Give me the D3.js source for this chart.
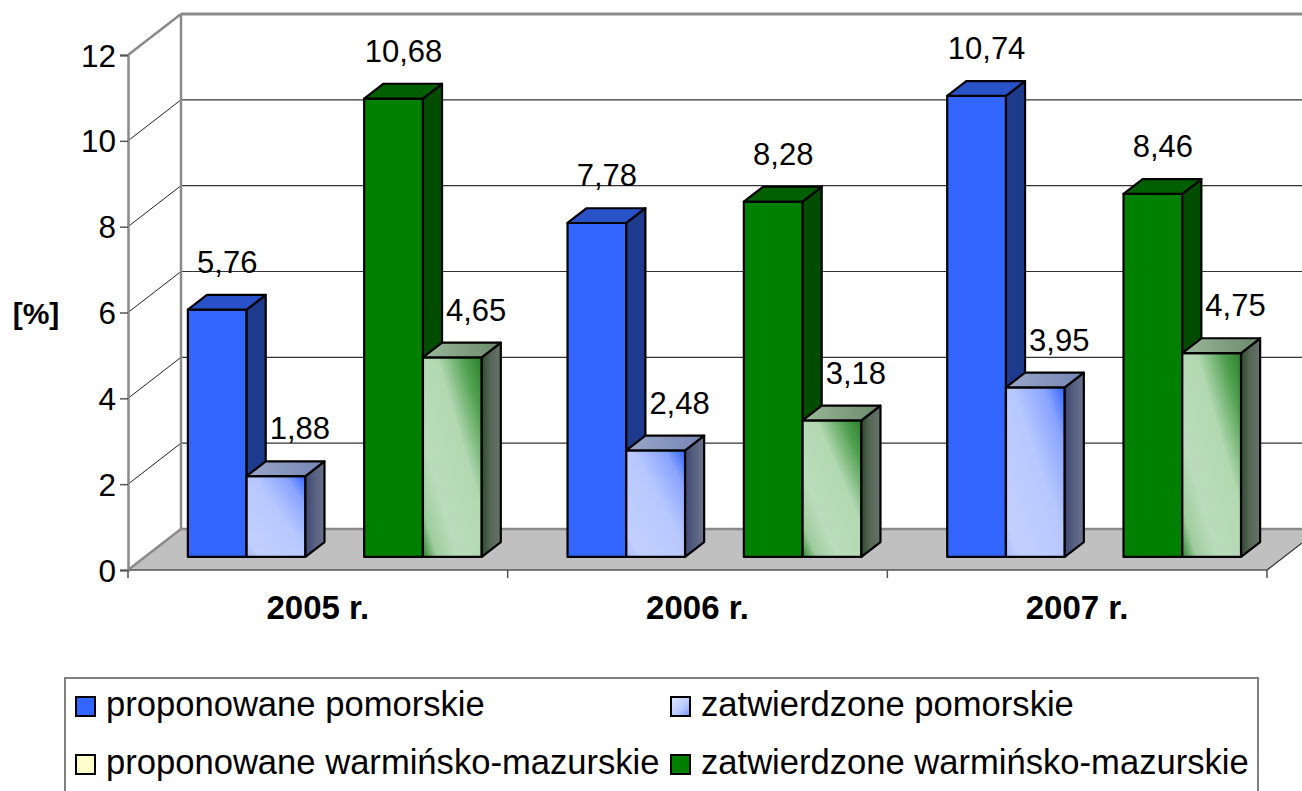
<!DOCTYPE html>
<html>
<head>
<meta charset="utf-8">
<script src="https://cdn.jsdelivr.net/npm/d3@7"></script>
<style>
  html, body { margin: 0; padding: 0; background: #fff; }
  svg { display: block; font-family: "Liberation Sans", Arial, sans-serif; }
</style>
</head>
<body>
<svg id="chart" width="1302" height="791"></svg>
<script>
// ---- data ----
const years = ["2005 r.", "2006 r.", "2007 r."];
const propPom = [5.76, 7.78, 10.74];   // proponowane pomorskie
const zatwPom = [1.88, 2.48, 3.95];    // zatwierdzone pomorskie
const propWM  = [10.68, 8.28, 8.46];   // warmińsko-mazurskie (dark green bars)
const zatwWM  = [4.65, 3.18, 4.75];    // warmińsko-mazurskie (light green bars)
const yTicks = [0, 2, 4, 6, 8, 10, 12];
const legendLabels = [
  "proponowane pomorskie", "zatwierdzone pomorskie",
  "proponowane warmińsko-mazurskie", "zatwierdzone warmińsko-mazurskie"
];
const slots = ["pp", "zp", "gap", "pw", "zw"];

const svg = d3.select("#chart");
const W = 1302, H = 791;

// ---- 3D geometry ----
const DX = 53, DY = 41;          // full floor depth offset
const d0 = 0.32, d1 = 0.68;      // bar depth range
const dd = d1 - d0;

const x0 = d3.scaleBand().domain(years).range([128, 1267]).padding(0);
const x1 = d3.scaleBand().domain(slots).range([0, x0.bandwidth()]).paddingInner(0).paddingOuter(0.73);
const y = d3.scaleLinear().domain([0, 12]).range([570, 55]);

const locale = d3.formatLocale({decimal: ",", thousands: " ", grouping: [3], currency: ["", " zł"]});
const fmt = locale.format(".2f");

// ---- defs (gradients) ----
const defs = svg.append("defs");
function lin(id, x1_, y1_, x2_, y2_, stops) {
  const g = defs.append("linearGradient").attr("id", id)
    .attr("x1", x1_).attr("y1", y1_).attr("x2", x2_).attr("y2", y2_);
  stops.forEach(s => g.append("stop").attr("offset", s[0]).attr("stop-color", s[1]));
}
lin("lbFront", 0, 1, 1, 0, [[0, "#aabcff"], [0.12, "#c2d0ff"], [0.55, "#b8c8ff"], [0.82, "#8aa4ff"], [1, "#3366ff"]]);
lin("lbSide", 0, 0, 1, 0, [[0, "#3c4670"], [0.5, "#5a6282"], [1, "#6a708a"]]);
lin("lbTop", 0, 0, 1, 0, [[0, "#98a6c8"], [1, "#7686b4"]]);
lin("lgFront", 0, 1, 1, 0, [[0, "#2e852e"], [0.12, "#9fcd9f"], [0.3, "#badcba"], [0.62, "#b2d8b2"], [0.85, "#4f9f4f"], [1, "#2a7f2a"]]);
lin("lgSide", 0, 0, 1, 0, [[0, "#2e4a2e"], [0.45, "#566656"], [1, "#66726a"]]);
lin("lgTop", 0, 0, 1, 0, [[0, "#9ab89a"], [1, "#6a8a6a"]]);
lin("lbSwatch", 0, 0, 1, 1, [[0, "#e0e8ff"], [0.6, "#b8c8ff"], [1, "#6f8fff"]]);

// ---- walls / floor ----
const y0 = y(0);
svg.append("polygon")
  .attr("points", [[128, y0], [1267, y0], [1267 + DX, y0 - DY], [128 + DX, y0 - DY]].map(p => p.join(",")).join(" "))
  .attr("fill", "#c0c0c0");
yTicks.filter(t => t > 0 && t < 12).forEach(t => {
  svg.append("line").attr("x1", 128 + DX).attr("x2", W).attr("y1", y(t) - DY).attr("y2", y(t) - DY)
    .attr("stroke", "#333").attr("stroke-width", 1.1);
  svg.append("line").attr("x1", 128).attr("y1", y(t)).attr("x2", 128 + DX).attr("y2", y(t) - DY)
    .attr("stroke", "#222").attr("stroke-width", 1);
});
const gray = "#8a8a8a";
svg.append("line").attr("x1", 128 + DX).attr("x2", W).attr("y1", y(12) - DY).attr("y2", y(12) - DY)
  .attr("stroke", gray).attr("stroke-width", 3);
svg.append("line").attr("x1", 128 + DX).attr("x2", W).attr("y1", y0 - DY).attr("y2", y0 - DY)
  .attr("stroke", gray).attr("stroke-width", 2.5);
svg.append("line").attr("x1", 128 + DX).attr("x2", 128 + DX).attr("y1", y(12) - DY).attr("y2", y0 - DY)
  .attr("stroke", gray).attr("stroke-width", 2.5);
svg.append("line").attr("x1", 128).attr("y1", y(12)).attr("x2", 128 + DX).attr("y2", y(12) - DY)
  .attr("stroke", gray).attr("stroke-width", 2.5);
svg.append("line").attr("x1", 128).attr("y1", y0).attr("x2", 128 + DX).attr("y2", y0 - DY)
  .attr("stroke", gray).attr("stroke-width", 2.5);
svg.append("line").attr("x1", 128).attr("x2", 1267).attr("y1", y0).attr("y2", y0)
  .attr("stroke", "#555").attr("stroke-width", 1.5);
svg.append("line").attr("x1", 1267).attr("y1", y0).attr("x2", 1267 + DX).attr("y2", y0 - DY)
  .attr("stroke", "#333").attr("stroke-width", 1.2);

// ---- value axis ----
const yAxis = d3.axisLeft(y).tickValues(yTicks).tickSize(8).tickPadding(4).tickFormat(d3.format("d"));
const gy = svg.append("g").attr("transform", "translate(128,0)").call(yAxis);
gy.select(".domain").attr("stroke", gray).attr("stroke-width", 2.5);
gy.selectAll(".tick line").attr("stroke", "#555").attr("stroke-width", 1.5);
gy.selectAll(".tick text").attr("font-size", 31.5).attr("fill", "#000")
  .attr("font-family", "Liberation Sans, Arial, sans-serif").attr("dy", "0.35em");

// ---- category axis ----
const gx = svg.append("g").attr("transform", `translate(0,${y0})`);
[128, ...years.map(c => x0(c) + x0.bandwidth())].forEach(xv => {
  gx.append("line").attr("x1", xv).attr("x2", xv).attr("y1", 0).attr("y2", 8)
    .attr("stroke", "#555").attr("stroke-width", 1.5);
});
gx.selectAll("text.cat").data(years).join("text").attr("class", "cat")
  .attr("x", d => x0(d) + x0.bandwidth() / 2).attr("y", 49)
  .attr("text-anchor", "middle").attr("font-size", 33).attr("font-weight", "bold").text(d => d);

svg.append("text").attr("x", 36).attr("y", 324).attr("text-anchor", "middle")
  .attr("font-size", 30).attr("font-weight", "bold").text("[%]");

// ---- bars ----
const seriesDefs = [
  {key: "pp", vals: propPom, front: "#3366ff", side: "#1e3a8c", top: "#2a52c8"},
  {key: "zp", vals: zatwPom, front: "url(#lbFront)", side: "url(#lbSide)", top: "url(#lbTop)"},
  {key: "pw", vals: propWM, front: "#008000", side: "#004d00", top: "#006000"},
  {key: "zw", vals: zatwWM, front: "url(#lgFront)", side: "url(#lgSide)", top: "url(#lgTop)"}
];
const w = x1.bandwidth();
const bars = [];
years.forEach((yr, i) => {
  seriesDefs.forEach((s, si) => {
    bars.push({yr, i, si, s, v: s.vals[i], x: x0(yr) + x1(s.key) + d0 * DX});
  });
});
const gb = svg.append("g");
const pts = a => a.map(p => p.join(",")).join(" ");
bars.forEach(b => {
  const top = y(b.v) - d0 * DY, bot = y0 - d0 * DY;
  const ox = dd * DX, oy = dd * DY;
  const g = gb.append("g").attr("stroke", "#000").attr("stroke-width", 2.2).attr("stroke-linejoin", "round");
  g.append("rect").attr("x", b.x).attr("y", top).attr("width", w).attr("height", bot - top).attr("fill", b.s.front);
  g.append("polygon").attr("points", pts([[b.x + w, top], [b.x + w + ox, top - oy], [b.x + w + ox, bot - oy], [b.x + w, bot]]))
    .attr("fill", b.s.side);
  g.append("polygon").attr("points", pts([[b.x, top], [b.x + ox, top - oy], [b.x + w + ox, top - oy], [b.x + w, top]]))
    .attr("fill", b.s.top);
  b.backTop = top - oy;
  b.backRight = b.x + w + ox;
});

// ---- value labels ----
bars.forEach(b => {
  const t = svg.append("text").attr("font-size", 31).attr("text-anchor", "middle").text(fmt(b.v));
  const tw = t.node().getComputedTextLength();
  let cx = b.x + w / 2 + 10;
  const left = bars.find(o => o.i === b.i && (o.si === b.si - 1) && (b.si % 2 === 1));
  if (left && left.v > b.v) cx = Math.max(cx, left.backRight + tw / 2 + 4);
  t.attr("x", cx).attr("y", b.backTop - 22);
});

// ---- legend ----
const lg = svg.append("g");
lg.append("rect").attr("x", 65).attr("y", 678).attr("width", 1193).attr("height", 130)
  .attr("fill", "#fff").attr("stroke", "#808080").attr("stroke-width", 2);
const swFills = ["#3366ff", "url(#lbSwatch)", "#ffffcc", "#008000"];
legendLabels.forEach((lab, k) => {
  const col = k % 2, row = Math.floor(k / 2);
  const sx = col === 0 ? 76 : 671;
  const sy = row === 0 ? 697 : 755;
  lg.append("rect").attr("x", sx).attr("y", sy).attr("width", 19).attr("height", 19)
    .attr("fill", swFills[k]).attr("stroke", "#000").attr("stroke-width", 2);
  lg.append("text").attr("x", sx + 30).attr("y", sy + 19).attr("font-size", 34.6).text(lab);
});
</script>
</body>
</html>
